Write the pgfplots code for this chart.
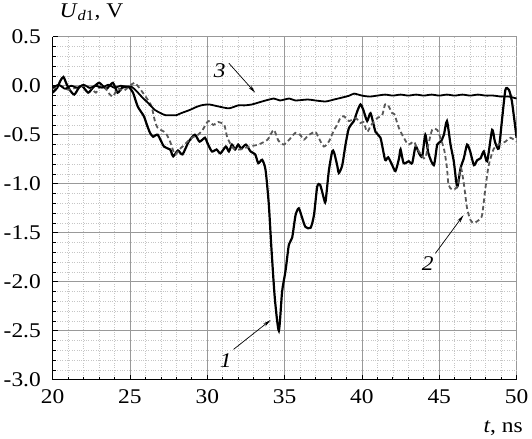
\documentclass[border=0pt]{standalone}
\usepackage{pgfplots}
\pgfplotsset{compat=1.18}
\usepackage{fontspec}
\setmainfont{Liberation Serif}
\usetikzlibrary{arrows.meta}

\newcommand{\lbl}{\fontsize{21}{24}\selectfont}

\begin{document}
\begin{tikzpicture}
\begin{axis}[
    scale only axis,
    width=464bp,
    height=343bp,
    xmin=20, xmax=50,
    ymin=-3.0, ymax=0.5,
    xtick={20,25,...,50},
    ytick={-3,-2.5,...,0.5},
    minor x tick num=4,
    minor y tick num=4,
    axis x line=bottom,
    axis y line=left,
    axis line style={-, line width=1.1pt},
    tick align=inside,
    major tick length=5bp,
    minor tick length=3bp,
    tick style={black, line width=0.7pt},
    grid=both,
    major grid style={gray!80, line width=0.8pt},
    minor grid style={gray!45, dotted, line width=0.6pt},
    ticklabel style={font=\lbl, xscale=1.12},
    /pgf/number format/assume math mode=true,
    yticklabel style={xshift=-7bp, /pgf/number format/.cd, fixed, fixed zerofill, precision=1},
    xticklabel style={yshift=-6bp, /pgf/number format/.cd, fixed, precision=0},
    xlabel={\textit{t}, ns},
    xlabel style={at={(rel axis cs:1,0)}, anchor=north east, yshift=-37bp, xshift=10bp, font=\lbl, xscale=1.12},
    ylabel={\textit{U}\textsubscript{\textit{d}1}, V},
    ylabel style={at={(rel axis cs:0,1)}, anchor=south west, rotate=-90, yshift=13bp, xshift=3bp, font=\lbl, xscale=1.12},
    clip=true,
]
% curve 1
\addplot[black, line width=2.2pt, smooth, tension=0.4] coordinates {
(20,-0.07) (20.3,-0.02) (20.5,0.05) (20.7,0.09) (20.9,0.02) (21.1,-0.04) (21.4,-0.09) (21.7,-0.02) (21.9,0.0) (22.3,-0.07) (22.6,-0.02) (23.0,0.03) (23.3,-0.01) (23.5,-0.03) (23.9,0.03) (24.2,-0.07) (24.5,-0.02) (24.9,-0.01) (25.2,-0.07) (25.5,-0.21) (25.9,-0.31) (26.1,-0.4) (26.3,-0.48) (26.5,-0.52) (26.8,-0.5) (27.2,-0.62) (27.6,-0.65) (27.8,-0.72) (28.1,-0.66) (28.4,-0.7) (28.8,-0.57) (29.2,-0.5) (29.5,-0.57) (29.85,-0.53) (30.0,-0.58) (30.3,-0.67) (30.6,-0.65) (30.85,-0.69) (31.2,-0.62) (31.4,-0.67) (31.6,-0.6) (31.8,-0.65) (32.0,-0.6) (32.2,-0.64) (32.5,-0.6) (32.8,-0.67) (33.1,-0.7) (33.3,-0.79) (33.55,-0.755) (33.77,-0.86) (33.98,-1.21) (34.15,-1.66) (34.37,-2.17) (34.63,-2.5) (34.84,-2.1) (35.06,-1.89) (35.28,-1.62) (35.49,-1.55) (35.71,-1.32) (35.92,-1.25) (36.14,-1.35) (36.35,-1.44) (36.68,-1.45) (36.9,-1.32) (37.11,-1.03) (37.3,-1.01) (37.54,-1.15) (37.65,-1.18) (37.86,-0.87) (38.08,-0.67) (38.2,-0.68) (38.4,-0.81) (38.51,-0.89) (38.73,-0.81) (38.94,-0.6) (39.16,-0.43) (39.48,-0.36) (39.7,-0.26) (39.91,-0.19) (40.1,-0.25) (40.34,-0.36) (40.56,-0.28) (40.88,-0.47) (41.2,-0.53) (41.5,-0.755) (41.7,-0.73) (41.96,-0.81) (42.17,-0.87) (42.4,-0.74) (42.5,-0.65) (42.7,-0.79) (43.03,-0.77) (43.25,-0.79) (43.47,-0.62) (43.7,-0.69) (43.9,-0.72) (44.1,-0.5) (44.3,-0.69) (44.65,-0.81) (44.87,-0.6) (45.1,-0.57) (45.3,-0.5) (45.5,-0.36) (45.73,-0.6) (45.94,-0.77) (46.16,-1.03) (46.38,-0.84) (46.59,-0.74) (46.8,-0.6) (47.0,-0.67) (47.24,-0.81) (47.45,-0.76) (47.67,-0.74) (47.88,-0.67) (48.1,-0.77) (48.42,-0.45) (48.6,-0.57) (48.85,-0.64) (49.07,-0.33) (49.28,-0.04) (49.5,-0.04) (49.7,-0.16) (50.0,-0.53)
};
% curve 2
\addplot[black!65, line width=1.8pt, dash pattern=on 4.5pt off 3pt, smooth, tension=0.4] coordinates {
(20,-0.03) (20.5,0.0) (21.0,-0.04) (21.5,-0.02) (22.0,0.0) (22.5,-0.03) (22.8,-0.07) (23.0,-0.02) (23.3,0.0) (23.6,-0.07) (23.9,-0.11) (24.2,-0.03) (24.6,-0.05) (25.0,0.0) (25.3,0.03) (25.6,-0.02) (26.1,-0.13) (26.4,-0.21) (26.6,-0.35) (26.8,-0.43) (27.3,-0.48) (27.6,-0.57) (27.9,-0.7) (28.2,-0.65) (28.6,-0.59) (29.0,-0.53) (29.4,-0.5) (29.7,-0.45) (29.96,-0.38) (30.1,-0.36) (30.4,-0.4) (30.7,-0.37) (31.1,-0.4) (31.3,-0.53) (31.7,-0.64) (32.15,-0.65) (32.7,-0.62) (33.3,-0.6) (33.9,-0.55) (34.3,-0.45) (34.6,-0.56) (34.95,-0.6) (35.3,-0.55) (35.7,-0.48) (36.0,-0.5) (36.25,-0.55) (36.5,-0.51) (36.8,-0.48) (37.0,-0.47) (37.2,-0.53) (37.54,-0.62) (37.86,-0.57) (38.2,-0.45) (38.4,-0.4) (38.6,-0.33) (38.83,-0.31) (39.16,-0.36) (39.6,-0.33) (39.91,-0.38) (40.1,-0.37) (40.34,-0.47) (40.6,-0.4) (40.99,-0.33) (41.31,-0.3) (41.5,-0.19) (41.7,-0.2) (41.96,-0.28) (42.1,-0.29) (42.39,-0.43) (42.71,-0.53) (43.0,-0.6) (43.36,-0.57) (43.57,-0.64) (43.9,-0.72) (44.1,-0.74) (44.3,-0.6) (44.54,-0.45) (44.87,-0.45) (45.3,-0.64) (45.5,-0.84) (45.6,-1.01) (45.84,-1.06) (46.16,-1.03) (46.4,-0.84) (46.6,-1.01) (46.8,-1.25) (47.02,-1.37) (47.24,-1.4) (47.56,-1.37) (47.77,-1.32) (47.99,-1.04) (48.2,-0.81) (48.53,-0.64) (48.85,-0.6) (49.28,-0.57) (49.6,-0.53) (50.0,-0.57)
};
% curve 3
\addplot[black, line width=1.8pt, smooth, tension=0.4] coordinates {
(20,-0.02) (20.4,0.01) (20.8,-0.03) (21.2,0.0) (21.6,-0.02) (22.0,0.01) (22.4,-0.02) (22.8,0.0) (23.2,-0.02) (23.6,0.01) (24.0,-0.02) (24.4,0.0) (24.8,-0.01) (25.1,-0.01) (25.4,-0.05) (25.75,-0.11) (26.2,-0.18) (26.6,-0.245) (27.0,-0.28) (27.3,-0.3) (27.7,-0.3) (28.0,-0.3) (28.3,-0.28) (28.9,-0.245) (29.24,-0.22) (29.6,-0.2) (30.1,-0.19) (30.7,-0.21) (31.4,-0.23) (32.0,-0.2) (32.4,-0.2) (32.9,-0.19) (33.55,-0.16) (34.3,-0.13) (34.7,-0.15) (35.3,-0.13) (35.7,-0.15) (36.5,-0.14) (37.0,-0.15) (37.65,-0.16) (38.2,-0.14) (38.73,-0.12) (39.2,-0.1) (39.5,-0.08) (40.0,-0.1) (40.5,-0.11) (41.0,-0.1) (41.5,-0.09) (42.0,-0.1) (42.5,-0.09) (43.0,-0.1) (43.5,-0.09) (44.0,-0.1) (44.5,-0.09) (45.0,-0.1) (45.5,-0.09) (46.0,-0.1) (46.5,-0.09) (47.0,-0.1) (47.5,-0.09) (48.0,-0.1) (48.5,-0.1) (49.0,-0.11) (49.5,-0.11) (50.0,-0.13)
};
% annotations
\draw[-{Stealth[length=8bp,width=3.5bp]}, line width=0.7pt] (axis cs:31.4,0.23) -- (axis cs:33.1,-0.07);
\node[font=\lbl\itshape, xscale=1.12] at (axis cs:30.8,0.155) {3};
\draw[-{Stealth[length=8bp,width=3.5bp]}, line width=0.7pt] (axis cs:31.7,-2.69) -- (axis cs:34.1,-2.39);
\node[font=\lbl\itshape, xscale=1.12] at (axis cs:31.2,-2.8) {1};
\draw[-{Stealth[length=8bp,width=3.5bp]}, line width=0.7pt] (axis cs:44.75,-1.71) -- (axis cs:46.57,-1.32);
\node[font=\lbl\itshape, xscale=1.12] at (axis cs:44.25,-1.81) {2};
\end{axis}
\end{tikzpicture}
\end{document}
